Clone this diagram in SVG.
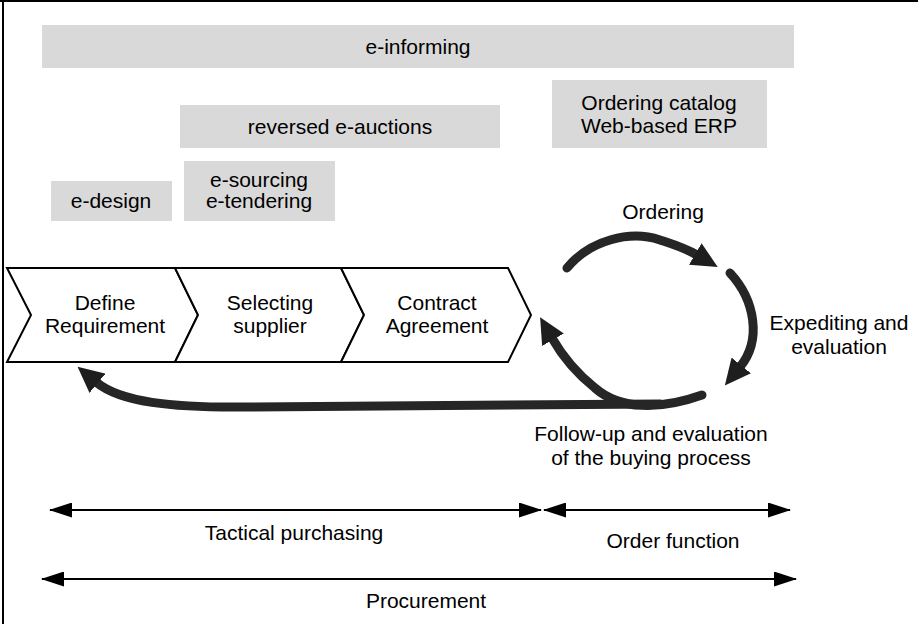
<svg xmlns="http://www.w3.org/2000/svg" width="918" height="624" viewBox="0 0 918 624">
  <style>
    text { font-family: "Liberation Sans", Arial, sans-serif; font-size: 21px; fill: #000; text-anchor: middle; }
    .band { fill: #d9d9d9; }
    .step { fill: #fff; stroke: #000; stroke-width: 2; stroke-linejoin: miter; }
    .flow { fill: none; stroke: #262626; stroke-width: 9; stroke-linecap: round; marker-end: url(#bigHead); }
    .span { fill: none; stroke: #000; stroke-width: 2; marker-start: url(#thinHead); marker-end: url(#thinHead); }
  </style>
  <defs>
    <marker id="bigHead" markerUnits="userSpaceOnUse" markerWidth="26" markerHeight="25" refX="2" refY="12.5" orient="auto">
      <path d="M0,0 L26,12.5 L0,25 Z" fill="#1e1e1e"/>
    </marker>
    <marker id="thinHead" markerUnits="userSpaceOnUse" markerWidth="23" markerHeight="15" refX="22" refY="7.5" orient="auto-start-reverse">
      <path d="M0,0 L23,7.5 L0,15 Z" fill="#000"/>
    </marker>
  </defs>

  <rect width="918" height="624" fill="#fff"/>
  <!-- frame edges -->
  <line x1="0" y1="1" x2="918" y2="1" stroke="#000" stroke-width="2"/>
  <line x1="3" y1="0" x2="3" y2="624" stroke="#000" stroke-width="2"/>

  <!-- e-tool bands -->
  <g id="e-informing">
    <rect class="band" x="42" y="25" width="752" height="43"/>
    <text x="418" y="54">e-informing</text>
  </g>
  <g id="reversed-e-auctions">
    <rect class="band" x="180" y="105" width="320" height="43"/>
    <text x="340" y="134">reversed e-auctions</text>
  </g>
  <g id="ordering-catalog">
    <rect class="band" x="552" y="80" width="215" height="68"/>
    <text x="659" y="110">Ordering catalog</text>
    <text x="659" y="133">Web-based ERP</text>
  </g>
  <g id="e-design">
    <rect class="band" x="51" y="181" width="121" height="40"/>
    <text x="111" y="208">e-design</text>
  </g>
  <g id="e-sourcing">
    <rect class="band" x="184" y="161" width="151" height="60"/>
    <text x="259" y="187">e-sourcing</text>
    <text x="259" y="208">e-tendering</text>
  </g>

  <!-- process chevrons -->
  <g id="define-requirement">
    <polygon class="step" points="7,268 175,268 198,315 175,362 7,362 31,315"/>
    <text x="105" y="310">Define</text>
    <text x="105" y="333">Requirement</text>
  </g>
  <g id="selecting-supplier">
    <polygon class="step" points="175,268 341,268 364,315 341,362 175,362 198,315"/>
    <text x="270" y="310">Selecting</text>
    <text x="270" y="333">supplier</text>
  </g>
  <g id="contract-agreement">
    <polygon class="step" points="341,268 508,268 531,315 508,362 341,362 364,315"/>
    <text x="437" y="310">Contract</text>
    <text x="437" y="333">Agreement</text>
  </g>

  <!-- cycle labels -->
  <g id="ordering">
    <text x="663" y="219">Ordering</text>
  </g>
  <g id="expediting">
    <text x="839" y="330">Expediting and</text>
    <text x="839" y="354">evaluation</text>
  </g>
  <g id="follow-up">
    <text x="651" y="441">Follow-up and evaluation</text>
    <text x="651" y="465">of the buying process</text>
  </g>

  <!-- scope labels -->
  <g id="tactical-purchasing">
    <text x="294" y="540">Tactical purchasing</text>
  </g>
  <g id="order-function">
    <text x="673" y="548">Order function</text>
  </g>
  <g id="procurement">
    <text x="426" y="608">Procurement</text>
  </g>

  <!-- connectors -->
  <g id="connectors">
    <path class="flow" d="M567,268 C590,240 630,230 660,240 C672,244 685,248 697,255"/>
    <path class="flow" d="M730,273 C755,300 762,340 740,367"/>
    <path class="flow" d="M702,395 C660,410 620,410 595,388 C575,372 560,352 552,338"/>
    <path class="flow" d="M660,404 L250,407 C170,408 120,402 96,382"/>

    <line class="span" x1="50" y1="510" x2="541" y2="510"/>
    <line class="span" x1="544" y1="510" x2="790" y2="510"/>
    <line class="span" x1="42" y1="579" x2="796" y2="579"/>
  </g>
</svg>
